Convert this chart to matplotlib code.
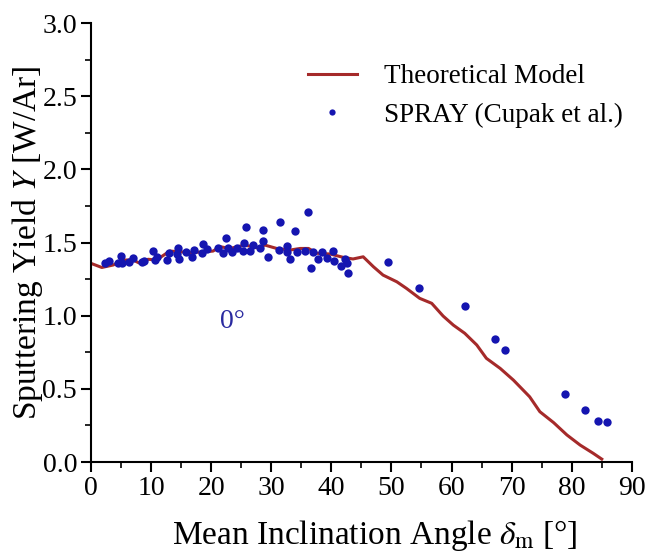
import matplotlib
matplotlib.use("Agg")
import matplotlib.pyplot as plt
from matplotlib.ticker import MultipleLocator

plt.rcParams['font.family'] = ['Liberation Serif', 'DejaVu Serif']
plt.rcParams['mathtext.fontset'] = 'stix'

# theoretical model
model_x = [0, 1.8, 3.7, 5.4, 7.0, 8.15, 9.5, 10.9, 13.1, 15.0, 16.5, 18.7, 20.3,
           21.5, 23.1, 25.6, 27.6, 28.95, 30.9, 33.1, 34.8, 36.2, 37.6, 39.8, 42.0,
           43.6, 45.3, 47.0, 48.6, 50.9, 52.5, 54.7, 56.7, 58.6, 60.3, 62.2, 64.2,
           65.8, 68.1, 70.3, 73.0, 74.7, 77.0, 79.2, 81.4, 83.6, 85.0]
model_y = [1.358, 1.33, 1.347, 1.381, 1.381, 1.358, 1.386, 1.381, 1.442, 1.437, 1.431,
           1.437, 1.442, 1.472, 1.46, 1.483, 1.465, 1.483, 1.46, 1.449, 1.46, 1.46,
           1.427, 1.422, 1.399, 1.388, 1.403, 1.335, 1.278, 1.232, 1.187, 1.119, 1.085,
           0.998, 0.936, 0.88, 0.80, 0.709, 0.64, 0.56, 0.446, 0.344, 0.269, 0.185,
           0.116, 0.059, 0.02]

# SPRAY simulation points
spray_x = [2.33, 3.04, 4.54, 4.99, 5.11, 6.37, 7.04, 8.44, 8.87, 10.37, 10.65, 10.93,
           12.6, 12.98, 14.36, 14.53, 14.64, 15.81, 16.76, 17.19, 18.42, 18.69, 19.25,
           21.18, 22.01, 22.41, 22.75, 23.41, 24.24, 25.24, 25.51, 25.74, 26.46, 26.9,
           28.12, 28.57, 28.67, 29.4, 31.28, 31.45, 32.56, 32.66, 33.11, 33.94, 34.23,
           35.61, 36.06, 36.61, 36.99, 37.82, 38.49, 39.22, 40.32, 40.48, 41.55, 42.26,
           42.55, 42.71, 49.4, 54.6, 62.3, 67.2, 68.9, 78.8, 82.2, 84.4, 85.8]
spray_y = [1.358, 1.374, 1.358, 1.408, 1.358, 1.365, 1.396, 1.365, 1.376, 1.442, 1.381,
           1.403, 1.381, 1.427, 1.422, 1.465, 1.388, 1.437, 1.399, 1.449, 1.427, 1.49,
           1.454, 1.465, 1.427, 1.529, 1.465, 1.437, 1.465, 1.444, 1.495, 1.608, 1.442,
           1.483, 1.465, 1.513, 1.586, 1.403, 1.449, 1.638, 1.478, 1.437, 1.386, 1.579,
           1.433, 1.442, 1.711, 1.324, 1.437, 1.386, 1.433, 1.392, 1.444, 1.374, 1.34,
           1.388, 1.362, 1.29, 1.365, 1.187, 1.068, 0.84, 0.768, 0.463, 0.355, 0.28, 0.271]

fig = plt.figure(figsize=(6.5, 5.52), dpi=100)
ax = fig.add_axes([0.14, 0.163, 0.832, 0.795])

ax.plot(model_x, model_y, color='#a52a2a', lw=2.2, label='Theoretical Model', zorder=2)
ax.plot(spray_x, spray_y, ls='none', marker='o', ms=6, mew=0, color='#1515b0',
        label='SPRAY (Cupak et al.)', zorder=3)

ax.text(23.5, 0.96, '0°', color='#2a2aa0', fontsize=20, ha='center', va='center')

ax.set_xlim(0, 90)
ax.set_ylim(0, 3.0)
ax.xaxis.set_major_locator(MultipleLocator(10))
ax.xaxis.set_minor_locator(MultipleLocator(5))
ax.yaxis.set_major_locator(MultipleLocator(0.5))
ax.yaxis.set_minor_locator(MultipleLocator(0.25))
ax.yaxis.set_major_formatter(matplotlib.ticker.FormatStrFormatter('%.1f'))

ax.spines['top'].set_visible(False)
ax.spines['right'].set_visible(False)
ax.spines['left'].set_linewidth(1.5)
ax.spines['bottom'].set_linewidth(1.5)
ax.tick_params(which='major', direction='out', length=7, width=1.5, labelsize=20, pad=3)
ax.tick_params(which='minor', direction='out', length=4, width=1.2)

ax.set_xlabel(r'Mean Inclination Angle $\delta_\mathrm{m}$ [°]', fontsize=24, labelpad=12)
ax.xaxis.label.set_x(0.525)
ax.set_ylabel(r'Sputtering Yield $Y$ [W/Ar]', fontsize=24, labelpad=-2)

leg = ax.legend(loc='upper right', frameon=False, fontsize=19.5, handlelength=1.8,
                numpoints=1, bbox_to_anchor=(1.028, 0.962), labelspacing=0.5,
                markerscale=0.75, handletextpad=1.0)

fig.savefig('out.png', dpi=100)
